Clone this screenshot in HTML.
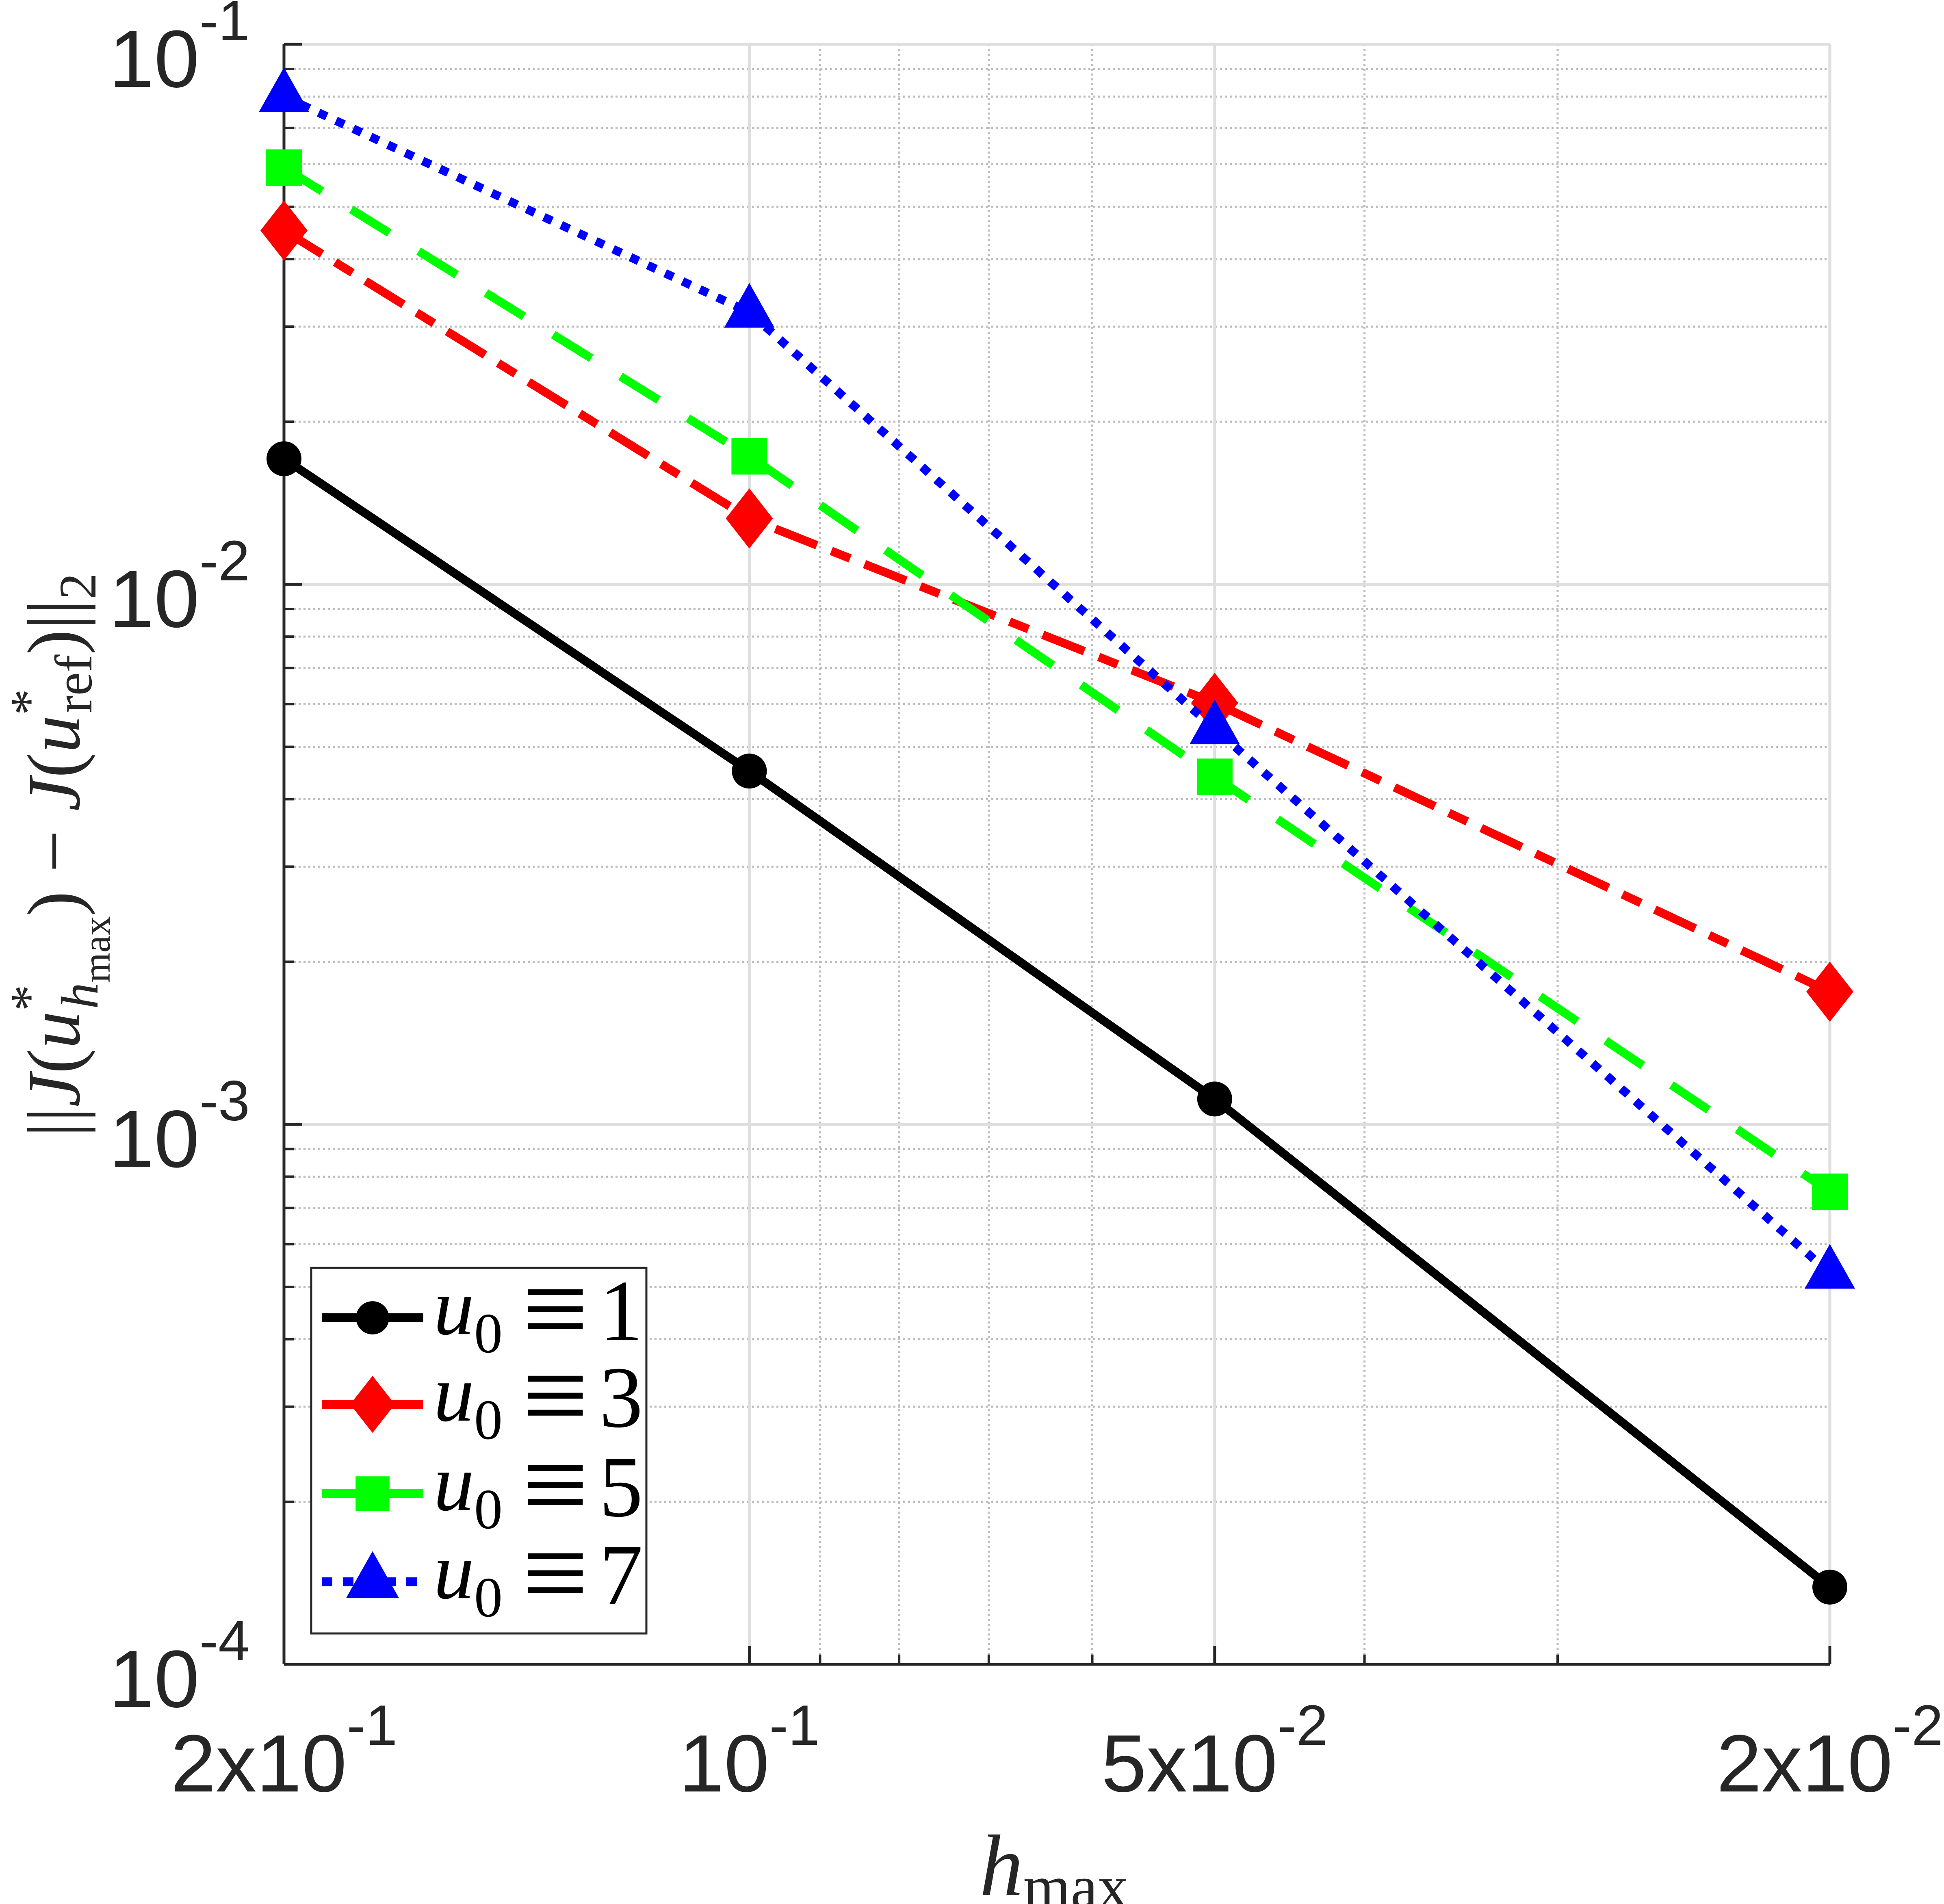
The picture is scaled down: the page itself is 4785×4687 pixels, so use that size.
<!DOCTYPE html>
<html><head><meta charset="utf-8"><style>
html,body{margin:0;padding:0;background:#fff}
svg{display:block}
</style></head><body>
<svg id="chart" xmlns="http://www.w3.org/2000/svg" width="4785" height="4687" viewBox="0 0 4785 4687">
<rect x="0" y="0" width="4785" height="4687" fill="#fff"/>
<g id="grid"></g>
<g id="axes"></g>
<g id="series"></g>
<g id="legend"></g>
<text x="2594" y="4665" text-anchor="middle" font-family="Liberation Serif, serif" font-size="215" fill="#262626"><tspan font-style="italic">h</tspan><tspan font-size="150" dy="30">max</tspan></text>
<text transform="translate(195,2105) rotate(-90)" text-anchor="middle" font-family="Liberation Serif, serif" font-size="185" fill="#262626">||<tspan font-style="italic">J</tspan>(<tspan font-style="italic">u</tspan><tspan font-size="130" dy="-80">*</tspan><tspan font-size="130" dy="125" font-style="italic" dx="-60">h</tspan><tspan font-size="95" dy="30">max</tspan><tspan dy="-75">) − </tspan><tspan font-style="italic">J</tspan>(<tspan font-style="italic">u</tspan><tspan font-size="130" dy="-80">*</tspan><tspan font-size="130" dy="110" dx="-60">ref</tspan><tspan dy="-30">)||</tspan><tspan font-size="130" dy="40">2</tspan></text>
</svg>
<script>
const hValues = [0.2, 0.1, 0.05, 0.02];
const errU1 = [0.01708, 0.00451, 0.001114, 0.000139];
const errU3 = [0.0452, 0.01324, 0.00603, 0.00176];
const errU5 = [0.0591, 0.01726, 0.0044, 0.00075];
const errU7 = [0.080, 0.0319, 0.0054, 0.00053];
const yTickVals = [0.1, 0.01, 0.001, 0.0001];
const yTickExp = ["-1", "-2", "-3", "-4"];
const xTickVals = [0.2, 0.1, 0.05, 0.02];
const xTickExp = ["-1", "-1", "-2", "-2"];
const xTickPre2 = ["2x10","10","5x10","2x10"];

const NS = "http://www.w3.org/2000/svg";
const L = 699, R = 4504, T = 109, B = 4097;
const xMin = 0.2, xMax = 0.02, yMin = 1e-4, yMax = 1e-1;
function xs(v){ return L + (Math.log10(xMin) - Math.log10(v)) / (Math.log10(xMin) - Math.log10(xMax)) * (R - L); }
function ys(v){ return B - (Math.log10(v) - Math.log10(yMin)) / (Math.log10(yMax) - Math.log10(yMin)) * (B - T); }
function mk(tag, attrs, parent){ const e = document.createElementNS(NS, tag); for (const k in attrs) e.setAttribute(k, attrs[k]); parent.appendChild(e); return e; }

const grid = document.getElementById('grid');
const axes = document.getElementById('axes');
for (let d = -4; d < -1; d++) {
  for (let m = 2; m <= 9; m++) {
    const y = ys(m * Math.pow(10, d));
    const g = mk('line', {x1:L, x2:R, y1:y, y2:y, stroke:'#bdbdbd', 'stroke-width':5, 'stroke-dasharray':'5 7'}, grid);
    
    
    const t = mk('line', {x1:L, x2:L+24, y1:y, y2:y, stroke:'#262626', 'stroke-width':6}, axes);
    
    
  }
}
[0.09,0.08,0.07,0.06,0.04,0.03].forEach(v => {
  const x = xs(v);
  const g = mk('line', {x1:x, x2:x, y1:T, y2:B, stroke:'#bdbdbd', 'stroke-width':5, 'stroke-dasharray':'5 7'}, grid);
  
  
  const t = mk('line', {x1:x, x2:x, y1:B, y2:B-24, stroke:'#262626', 'stroke-width':6}, axes);
  
  
});
yTickVals.forEach((v, i) => {
  const y = ys(v);
  const g = mk('line', {x1:L, x2:R, y1:y, y2:y, stroke:'#dedede', 'stroke-width':7}, grid);
  
  
  const t = mk('line', {x1:L, x2:L+45, y1:y, y2:y, stroke:'#262626', 'stroke-width':7}, axes);
  
  
  const tx = mk('text', {x:615, y:y+105, 'text-anchor':'end', 'font-family':'Liberation Sans, sans-serif', 'font-size':200, fill:'#262626'}, axes);
  
  
  tx.textContent = '10';
  const sp = mk('tspan', {'font-size':140, dy:-115}, tx);
  sp.textContent = yTickExp[i];
});
xTickVals.forEach((v, i) => {
  const x = xs(v);
  const g = mk('line', {x1:x, x2:x, y1:T, y2:B, stroke:'#dedede', 'stroke-width':7}, grid);
  
  
  const t = mk('line', {x1:x, x2:x, y1:B, y2:B-45, stroke:'#262626', 'stroke-width':7}, axes);
  
  
  const tx = mk('text', {x:x, y:4410, 'text-anchor':'middle', 'font-family':'Liberation Sans, sans-serif', 'font-size':200, fill:'#262626'}, axes);
  
  
  tx.textContent = xTickPre2[i];
  const sp = mk('tspan', {'font-size':140, dy:-115}, tx);
  sp.textContent = xTickExp[i];
});
const ax1 = mk('line', {x1:L, x2:L, y1:T, y2:B, stroke:'#262626', 'stroke-width':7}, axes);


const ax2 = mk('line', {x1:L, x2:R, y1:B, y2:B, stroke:'#262626', 'stroke-width':7}, axes);


const ax3 = mk('line', {x1:L, x2:L+45, y1:T, y2:T, stroke:'#262626', 'stroke-width':7}, axes);



function marker(parent, type, cx, cy, color, scale){
  const s = scale || 1; let e;
  if (type === 'circle') e = mk('circle', {cx:cx, cy:cy, r:43*s, fill:color}, parent);
  else if (type === 'diamond') e = mk('polygon', {points:`${cx},${cy-74*s} ${cx+58*s},${cy} ${cx},${cy+74*s} ${cx-58*s},${cy}`, fill:color}, parent);
  else if (type === 'square') e = mk('rect', {x:cx-44*s, y:cy-45*s, width:88*s, height:90*s, fill:color}, parent);
  else e = mk('polygon', {points:`${cx},${cy-72*s} ${cx+62*s},${cy+38*s} ${cx-62*s},${cy+38*s}`, fill:color}, parent);
  return e;
}
const seriesDefs = [
  {name:'u0-1', data:errU1, color:'#000000', dash:'', m:'circle', label:'1'},
  {name:'u0-3', data:errU3, color:'#ff0000', dash:'110 38 50 38', m:'diamond', label:'3'},
  {name:'u0-5', data:errU5, color:'#00ff00', dash:'110 85', m:'square', label:'5'},
  {name:'u0-7', data:errU7, color:'#0000ff', dash:'22 25', m:'triangle', label:'7'}
];
const sg = document.getElementById('series');
seriesDefs.forEach(sd => {
  const g = mk('g', {}, sg);
  
  
  const pts = hValues.map((h, i) => xs(h) + ',' + ys(sd.data[i])).join(' ');
  const pl = mk('polyline', {points:pts, fill:'none', stroke:sd.color, 'stroke-width':21, 'stroke-dasharray':sd.dash || 'none'}, g);
  
  
  hValues.forEach((h, i) => {
    const e = marker(g, sd.m, xs(h), ys(sd.data[i]), sd.color);
    
    
  });
});

const lg = document.getElementById('legend');
const box = mk('rect', {x:766, y:3121, width:825, height:900, fill:'#fff', stroke:'#262626', 'stroke-width':5}, lg);


const rowsY = [3244, 3457, 3677, 3894];
seriesDefs.forEach((sd, i) => {
  const y = rowsY[i];
  const g = mk('g', {}, lg);
  
  
  mk('line', {x1:792, x2:1042, y1:y, y2:y, stroke:sd.color, 'stroke-width':22, 'stroke-dasharray':sd.m==='triangle' ? '26 26' : (sd.dash ? '120 20' : 'none')}, g);
  marker(g, sd.m, 917, y, sd.color, sd.m==='triangle'?1.05:0.95);
  const t = mk('text', {x:1067, y:y+40, 'font-family':'Liberation Serif, serif', 'font-size':200, fill:'#000'}, g);
  const a = mk('tspan', {'font-style':'italic'}, t); a.textContent = 'u';
  const b = mk('tspan', {'font-size':140, dy:45}, t); b.textContent = '0';
  const c = mk('tspan', {x:1285, y:y+75, 'font-size':290}, t); c.textContent = '≡';
  const d = mk('tspan', {x:1475, y:y+55, 'font-size':215}, t); d.textContent = sd.label;
});
</script>
</body></html>
